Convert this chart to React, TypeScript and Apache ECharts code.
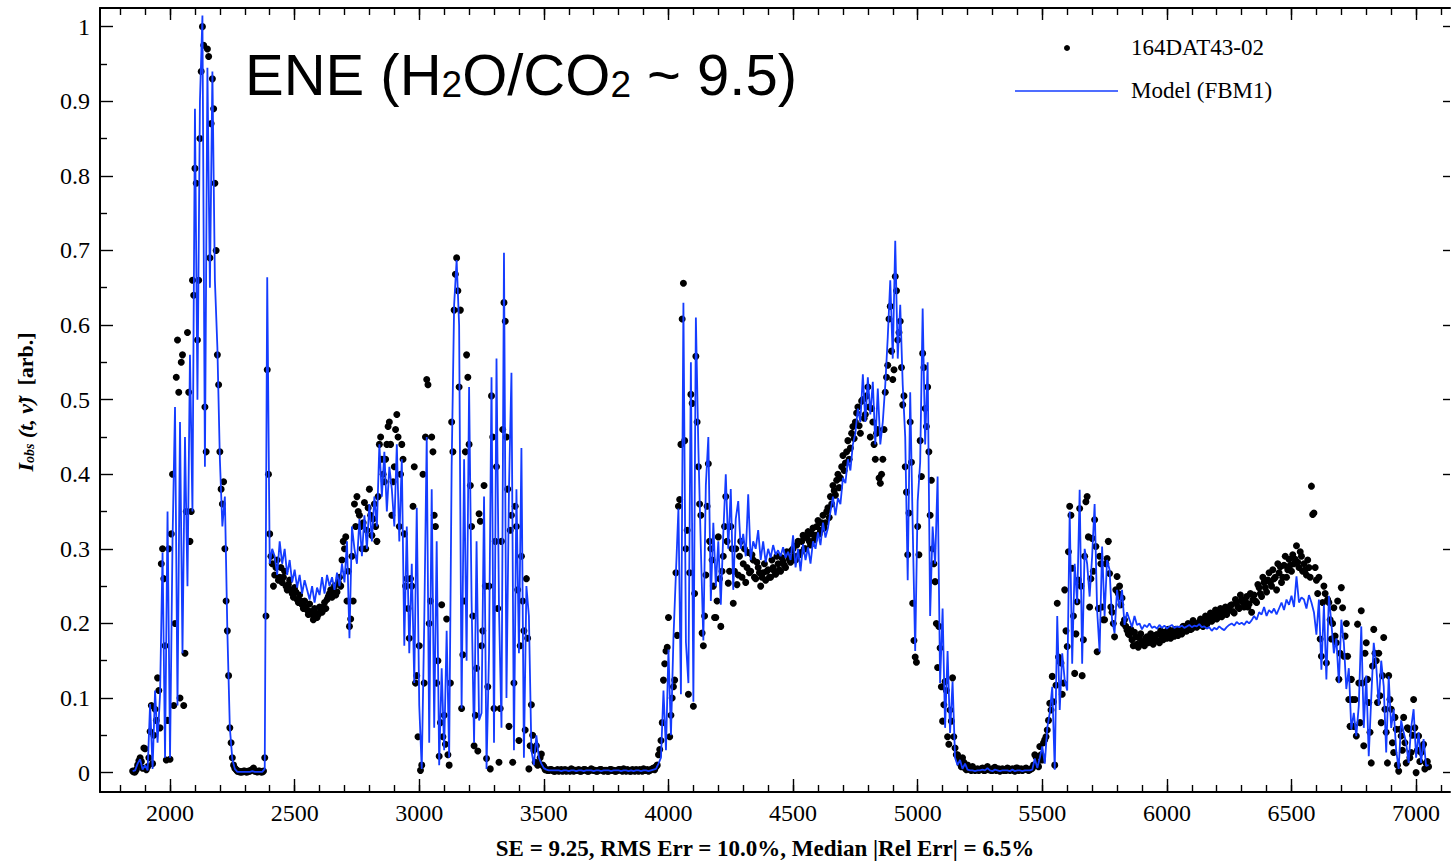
import React, { useEffect, useRef } from "react";
import * as echarts from "echarts";

// Spectral sampling grid (cm^-1). The observed spectrum has two interleaved
// sample sets (on-grid and half-step offset); the model lives on the main grid.
const SAMPLE_START = 1850;
const SAMPLE_STEP = 10;
const OFFSET_START = 1855;

// Observed intensity, 164DAT43-02, main grid (10 values per row = 100 cm^-1)
const observed = [
  /* 1850 */ 0.002, 0.001, 0.010, 0.020, 0.006, 0.032, 0.008, 0.055, 0.012, 0.085,
  /* 1950 */ 0.127, 0.060, 0.300, 0.170, 0.070, 0.018, 0.400, 0.200, 0.580, 0.100,
  /* 2050 */ 0.560, 0.160, 0.590, 0.310, 0.660, 0.810, 0.580, 0.850, 1.000, 0.490,
  /* 2150 */ 0.970, 0.690, 0.930, 0.790, 0.560, 0.430, 0.360, 0.300, 0.190, 0.060,
  /* 2250 */ 0.020, 0.006, 0.002, 0.001, 0.001, 0.002, 0.001, 0.002, 0.004, 0.002,
  /* 2350 */ 0.001, 0.002, 0.001, 0.020, 0.540, 0.320, 0.280, 0.265, 0.285, 0.262,
  /* 2450 */ 0.255, 0.270, 0.245, 0.258, 0.240, 0.248, 0.232, 0.238, 0.225, 0.230,
  /* 2550 */ 0.218, 0.226, 0.212, 0.220, 0.208, 0.222, 0.215, 0.228, 0.232, 0.240,
  /* 2650 */ 0.235, 0.250, 0.242, 0.262, 0.285, 0.300, 0.230, 0.196, 0.290, 0.360,
  /* 2750 */ 0.370, 0.345, 0.300, 0.362, 0.325, 0.380, 0.318, 0.360, 0.310, 0.440,
  /* 2850 */ 0.420, 0.390, 0.440, 0.470, 0.345, 0.410, 0.480, 0.330, 0.440, 0.320,
  /* 2950 */ 0.260, 0.180, 0.250, 0.410, 0.130, 0.170, 0.010, 0.120, 0.527, 0.200,
  /* 3050 */ 0.450, 0.345, 0.120, 0.022, 0.225, 0.077, 0.206, 0.010, 0.470, 0.620,
  /* 3150 */ 0.690, 0.517, 0.086, 0.230, 0.560, 0.440, 0.330, 0.036, 0.140, 0.347,
  /* 3250 */ 0.170, 0.385, 0.019, 0.250, 0.505, 0.086, 0.410, 0.014, 0.310, 0.630,
  /* 3350 */ 0.450, 0.062, 0.345, 0.120, 0.330, 0.043, 0.290, 0.190, 0.260, 0.005,
  /* 3450 */ 0.091, 0.030, 0.036, 0.012, 0.025, 0.008, 0.004, 0.003, 0.004, 0.002,
  /* 3550 */ 0.003, 0.002, 0.004, 0.003, 0.002, 0.003, 0.005, 0.002, 0.003, 0.004,
  /* 3650 */ 0.002, 0.004, 0.003, 0.002, 0.005, 0.003, 0.002, 0.003, 0.004, 0.002,
  /* 3750 */ 0.003, 0.002, 0.004, 0.003, 0.002, 0.004, 0.003, 0.005, 0.002, 0.003,
  /* 3850 */ 0.002, 0.003, 0.004, 0.002, 0.003, 0.005, 0.003, 0.002, 0.004, 0.006,
  /* 3950 */ 0.008, 0.024, 0.043, 0.124, 0.163, 0.208, 0.077, 0.115, 0.268, 0.357,
  /* 4050 */ 0.440, 0.656, 0.300, 0.105, 0.507, 0.089, 0.558, 0.410, 0.345, 0.170,
  /* 4150 */ 0.265, 0.414, 0.300, 0.250, 0.208, 0.316, 0.196, 0.290, 0.370, 0.254,
  /* 4250 */ 0.330, 0.227, 0.300, 0.265, 0.310, 0.280, 0.255, 0.295, 0.270, 0.285,
  /* 4350 */ 0.260, 0.275, 0.250, 0.268, 0.258, 0.272, 0.262, 0.275, 0.266, 0.280,
  /* 4450 */ 0.270, 0.283, 0.275, 0.290, 0.282, 0.300, 0.285, 0.310, 0.295, 0.318,
  /* 4550 */ 0.300, 0.323, 0.305, 0.328, 0.318, 0.338, 0.325, 0.345, 0.335, 0.355,
  /* 4650 */ 0.370, 0.385, 0.372, 0.400, 0.395, 0.425, 0.415, 0.445, 0.435, 0.464,
  /* 4750 */ 0.470, 0.490, 0.455, 0.500, 0.480, 0.517, 0.450, 0.470, 0.420, 0.460,
  /* 4850 */ 0.388, 0.420, 0.510, 0.546, 0.625, 0.527, 0.665, 0.580, 0.605, 0.493,
  /* 4950 */ 0.410, 0.292, 0.470, 0.227, 0.155, 0.330, 0.445, 0.562, 0.488, 0.517,
  /* 5050 */ 0.345, 0.300, 0.256, 0.141, 0.167, 0.069, 0.122, 0.048, 0.084, 0.127,
  /* 5150 */ 0.033, 0.024, 0.012, 0.020, 0.006, 0.010, 0.004, 0.008, 0.003, 0.005,
  /* 5250 */ 0.004, 0.006, 0.003, 0.008, 0.004, 0.003, 0.007, 0.004, 0.002, 0.005,
  /* 5350 */ 0.004, 0.006, 0.003, 0.005, 0.002, 0.006, 0.004, 0.003, 0.005, 0.004,
  /* 5450 */ 0.004, 0.006, 0.024, 0.013, 0.035, 0.017, 0.044, 0.057, 0.093, 0.129,
  /* 5550 */ 0.010, 0.227, 0.149, 0.105, 0.245, 0.169, 0.357, 0.274, 0.133, 0.229,
  /* 5650 */ 0.354, 0.130, 0.290, 0.370, 0.222, 0.314, 0.339, 0.162, 0.290, 0.222,
  /* 5750 */ 0.205, 0.287, 0.267, 0.215, 0.182, 0.263, 0.250, 0.234, 0.205, 0.191,
  /* 5850 */ 0.185, 0.178, 0.188, 0.172, 0.180, 0.175, 0.170, 0.182, 0.176, 0.180,
  /* 5950 */ 0.178, 0.185, 0.174, 0.182, 0.188, 0.180, 0.185, 0.190, 0.183, 0.188,
  /* 6050 */ 0.192, 0.186, 0.195, 0.190, 0.198, 0.193, 0.200, 0.195, 0.202, 0.198,
  /* 6150 */ 0.205, 0.199, 0.208, 0.203, 0.212, 0.206, 0.214, 0.209, 0.216, 0.212,
  /* 6250 */ 0.218, 0.225, 0.214, 0.228, 0.220, 0.232, 0.222, 0.236, 0.226, 0.215,
  /* 6350 */ 0.238, 0.228, 0.248, 0.236, 0.255, 0.242, 0.268, 0.250, 0.260, 0.245,
  /* 6450 */ 0.268, 0.255, 0.278, 0.262, 0.286, 0.270, 0.280, 0.304, 0.275, 0.290,
  /* 6550 */ 0.280, 0.265, 0.275, 0.384, 0.348, 0.258, 0.262, 0.156, 0.250, 0.147,
  /* 6650 */ 0.228, 0.179, 0.221, 0.174, 0.125, 0.248, 0.156, 0.200, 0.098, 0.125,
  /* 6750 */ 0.062, 0.049, 0.120, 0.217, 0.036, 0.174, 0.094, 0.013, 0.192, 0.150,
  /* 6850 */ 0.160, 0.067, 0.181, 0.054, 0.130, 0.085, 0.027, 0.058, 0.002, 0.049,
  /* 6950 */ 0.074, 0.013, 0.058, 0.027, 0.098, 0.000, 0.049, 0.027, 0.038, 0.013,
  /* 7050 */ 0.008,
];

// Observed intensity, offset grid (1855, 1865, ... 7045)
const observedOffset = [
  /* 1855 */ 0.001, 0.004, 0.016, 0.015, 0.033, 0.004, 0.020, 0.090, 0.050, 0.070,
  /* 1955 */ 0.110, 0.280, 0.260, 0.017, 0.300, 0.320, 0.090, 0.530, 0.510, 0.550,
  /* 2055 */ 0.090, 0.350, 0.510, 0.350, 0.640, 0.790, 0.660, 0.940, 0.975, 0.430,
  /* 2155 */ 0.960, 0.870, 0.890, 0.700, 0.520, 0.380, 0.390, 0.230, 0.130, 0.040,
  /* 2255 */ 0.010, 0.004, 0.002, 0.001, 0.002, 0.001, 0.002, 0.003, 0.006, 0.002,
  /* 2355 */ 0.002, 0.001, 0.002, 0.210, 0.400, 0.290, 0.250, 0.275, 0.258, 0.275,
  /* 2455 */ 0.262, 0.250, 0.252, 0.245, 0.235, 0.242, 0.228, 0.230, 0.220, 0.222,
  /* 2555 */ 0.212, 0.216, 0.205, 0.214, 0.212, 0.216, 0.222, 0.220, 0.236, 0.245,
  /* 2655 */ 0.242, 0.238, 0.255, 0.250, 0.310, 0.316, 0.270, 0.206, 0.230, 0.330,
  /* 2755 */ 0.350, 0.330, 0.335, 0.300, 0.355, 0.345, 0.340, 0.330, 0.370, 0.450,
  /* 2855 */ 0.400, 0.420, 0.464, 0.440, 0.390, 0.460, 0.450, 0.400, 0.420, 0.250,
  /* 2955 */ 0.220, 0.260, 0.357, 0.120, 0.048, 0.003, 0.400, 0.450, 0.520, 0.230,
  /* 3055 */ 0.430, 0.330, 0.150, 0.067, 0.048, 0.038, 0.024, 0.120, 0.430, 0.668,
  /* 3155 */ 0.646, 0.620, 0.158, 0.430, 0.530, 0.385, 0.210, 0.077, 0.029, 0.337,
  /* 3255 */ 0.190, 0.250, 0.115, 0.005, 0.450, 0.310, 0.220, 0.086, 0.460, 0.605,
  /* 3355 */ 0.380, 0.325, 0.014, 0.357, 0.245, 0.170, 0.230, 0.057, 0.180, 0.036,
  /* 3455 */ 0.050, 0.014, 0.010, 0.020, 0.010, 0.004, 0.003, 0.004, 0.003, 0.002,
  /* 3555 */ 0.004, 0.003, 0.002, 0.004, 0.003, 0.002, 0.004, 0.003, 0.003, 0.002,
  /* 3655 */ 0.003, 0.004, 0.002, 0.003, 0.004, 0.003, 0.002, 0.004, 0.003, 0.003,
  /* 3755 */ 0.002, 0.004, 0.003, 0.002, 0.003, 0.004, 0.002, 0.003, 0.004, 0.002,
  /* 3855 */ 0.004, 0.002, 0.003, 0.004, 0.002, 0.003, 0.004, 0.003, 0.005, 0.004,
  /* 3955 */ 0.010, 0.031, 0.067, 0.146, 0.168, 0.048, 0.100, 0.124, 0.184, 0.366,
  /* 4055 */ 0.608, 0.445, 0.325, 0.268, 0.495, 0.240, 0.470, 0.360, 0.187, 0.210,
  /* 4155 */ 0.357, 0.310, 0.285, 0.208, 0.230, 0.260, 0.270, 0.330, 0.310, 0.270,
  /* 4255 */ 0.300, 0.270, 0.252, 0.290, 0.262, 0.300, 0.275, 0.268, 0.292, 0.262,
  /* 4355 */ 0.282, 0.268, 0.262, 0.280, 0.270, 0.262, 0.285, 0.270, 0.290, 0.272,
  /* 4455 */ 0.288, 0.278, 0.296, 0.286, 0.298, 0.290, 0.305, 0.292, 0.310, 0.300,
  /* 4555 */ 0.315, 0.310, 0.320, 0.312, 0.330, 0.320, 0.335, 0.328, 0.350, 0.342,
  /* 4655 */ 0.360, 0.378, 0.392, 0.382, 0.410, 0.405, 0.430, 0.420, 0.455, 0.448,
  /* 4755 */ 0.482, 0.465, 0.498, 0.475, 0.505, 0.490, 0.488, 0.440, 0.455, 0.395,
  /* 4855 */ 0.400, 0.460, 0.530, 0.608, 0.565, 0.540, 0.646, 0.590, 0.543, 0.505,
  /* 4955 */ 0.376, 0.348, 0.416, 0.177, 0.148, 0.292, 0.397, 0.543, 0.464, 0.430,
  /* 5055 */ 0.392, 0.280, 0.200, 0.196, 0.115, 0.091, 0.110, 0.038, 0.069, 0.048,
  /* 5155 */ 0.024, 0.018, 0.008, 0.014, 0.004, 0.007, 0.003, 0.005, 0.004, 0.003,
  /* 5255 */ 0.005, 0.003, 0.006, 0.004, 0.003, 0.006, 0.003, 0.005, 0.004, 0.003,
  /* 5355 */ 0.003, 0.005, 0.004, 0.003, 0.006, 0.003, 0.005, 0.004, 0.006, 0.003,
  /* 5455 */ 0.005, 0.010, 0.021, 0.008, 0.024, 0.040, 0.048, 0.070, 0.084, 0.095,
  /* 5555 */ 0.117, 0.155, 0.147, 0.120, 0.190, 0.296, 0.345, 0.210, 0.186, 0.258,
  /* 5655 */ 0.250, 0.178, 0.363, 0.316, 0.260, 0.270, 0.303, 0.220, 0.280, 0.205,
  /* 5755 */ 0.280, 0.310, 0.222, 0.200, 0.245, 0.240, 0.225, 0.200, 0.196, 0.186,
  /* 5855 */ 0.192, 0.170, 0.182, 0.168, 0.186, 0.172, 0.180, 0.174, 0.186, 0.172,
  /* 5955 */ 0.184, 0.176, 0.190, 0.178, 0.184, 0.192, 0.180, 0.186, 0.192, 0.184,
  /* 6055 */ 0.188, 0.196, 0.190, 0.200, 0.192, 0.204, 0.198, 0.200, 0.206, 0.196,
  /* 6155 */ 0.210, 0.202, 0.214, 0.208, 0.218, 0.210, 0.220, 0.214, 0.222, 0.218,
  /* 6255 */ 0.224, 0.216, 0.232, 0.222, 0.238, 0.228, 0.230, 0.222, 0.240, 0.232,
  /* 6355 */ 0.230, 0.252, 0.240, 0.262, 0.248, 0.258, 0.255, 0.272, 0.262, 0.280,
  /* 6455 */ 0.276, 0.262, 0.290, 0.272, 0.278, 0.292, 0.286, 0.282, 0.296, 0.270,
  /* 6555 */ 0.272, 0.285, 0.262, 0.346, 0.275, 0.240, 0.179, 0.228, 0.240, 0.232,
  /* 6655 */ 0.205, 0.200, 0.183, 0.230, 0.160, 0.221, 0.183, 0.156, 0.062, 0.098,
  /* 6755 */ 0.098, 0.199, 0.067, 0.120, 0.160, 0.125, 0.054, 0.143, 0.160, 0.094,
  /* 6855 */ 0.103, 0.130, 0.085, 0.013, 0.098, 0.040, 0.074, 0.010, 0.058, 0.030,
  /* 6955 */ 0.040, 0.060, 0.020, 0.050, 0.060, 0.030, 0.015, 0.035, 0.005, 0.015,
];

// Model (FBM1) intensity on the main grid
const model = [
  /* 1850 */ 0.002, 0.003, 0.012, 0.018, 0.004, 0.010, 0.003, 0.092, 0.005, 0.110,
  /* 1950 */ 0.040, 0.105, 0.295, 0.020, 0.350, 0.020, 0.310, 0.490, 0.090, 0.470,
  /* 2050 */ 0.160, 0.450, 0.250, 0.560, 0.350, 0.890, 0.500, 0.900, 1.015, 0.410,
  /* 2150 */ 0.945, 0.650, 0.940, 0.660, 0.570, 0.420, 0.330, 0.370, 0.190, 0.060,
  /* 2250 */ 0.018, 0.005, 0.001, 0.001, 0.001, 0.001, 0.001, 0.001, 0.002, 0.001,
  /* 2350 */ 0.001, 0.001, 0.001, 0.005, 0.664, 0.280, 0.300, 0.290, 0.265, 0.310,
  /* 2450 */ 0.280, 0.300, 0.265, 0.285, 0.255, 0.272, 0.248, 0.265, 0.240, 0.258,
  /* 2550 */ 0.245, 0.232, 0.250, 0.228, 0.248, 0.238, 0.262, 0.240, 0.265, 0.250,
  /* 2650 */ 0.262, 0.245, 0.268, 0.250, 0.280, 0.255, 0.310, 0.180, 0.330, 0.300,
  /* 2750 */ 0.280, 0.340, 0.290, 0.345, 0.300, 0.360, 0.310, 0.370, 0.330, 0.440,
  /* 2850 */ 0.370, 0.430, 0.350, 0.410, 0.380, 0.330, 0.440, 0.310, 0.420, 0.170,
  /* 2950 */ 0.330, 0.160, 0.280, 0.120, 0.355, 0.090, 0.005, 0.200, 0.450, 0.040,
  /* 3050 */ 0.380, 0.060, 0.310, 0.010, 0.140, 0.030, 0.190, 0.020, 0.410, 0.627,
  /* 3150 */ 0.687, 0.600, 0.086, 0.420, 0.150, 0.517, 0.230, 0.040, 0.310, 0.070,
  /* 3250 */ 0.080, 0.370, 0.005, 0.160, 0.530, 0.040, 0.555, 0.220, 0.060, 0.697,
  /* 3350 */ 0.100, 0.380, 0.536, 0.030, 0.380, 0.160, 0.435, 0.020, 0.250, 0.210,
  /* 3450 */ 0.030, 0.010, 0.050, 0.020, 0.012, 0.006, 0.004, 0.003, 0.003, 0.003,
  /* 3550 */ 0.003, 0.003, 0.002, 0.003, 0.003, 0.002, 0.003, 0.003, 0.002, 0.003,
  /* 3650 */ 0.003, 0.002, 0.003, 0.003, 0.003, 0.002, 0.003, 0.003, 0.002, 0.003,
  /* 3750 */ 0.003, 0.003, 0.002, 0.003, 0.003, 0.003, 0.002, 0.003, 0.003, 0.002,
  /* 3850 */ 0.003, 0.002, 0.003, 0.003, 0.002, 0.003, 0.003, 0.002, 0.003, 0.004,
  /* 3950 */ 0.005, 0.012, 0.020, 0.110, 0.030, 0.165, 0.050, 0.180, 0.268, 0.354,
  /* 4050 */ 0.105, 0.630, 0.175, 0.120, 0.550, 0.095, 0.610, 0.435, 0.300, 0.177,
  /* 4150 */ 0.385, 0.450, 0.230, 0.335, 0.250, 0.310, 0.225, 0.320, 0.400, 0.300,
  /* 4250 */ 0.380, 0.245, 0.340, 0.364, 0.300, 0.320, 0.290, 0.373, 0.285, 0.310,
  /* 4350 */ 0.300, 0.325, 0.285, 0.310, 0.282, 0.300, 0.288, 0.305, 0.292, 0.298,
  /* 4450 */ 0.290, 0.302, 0.288, 0.296, 0.285, 0.318, 0.275, 0.300, 0.270, 0.306,
  /* 4550 */ 0.285, 0.302, 0.280, 0.310, 0.300, 0.322, 0.305, 0.335, 0.315, 0.328,
  /* 4650 */ 0.350, 0.370, 0.345, 0.368, 0.360, 0.395, 0.388, 0.420, 0.405, 0.440,
  /* 4750 */ 0.455, 0.488, 0.470, 0.534, 0.470, 0.530, 0.480, 0.524, 0.440, 0.515,
  /* 4850 */ 0.440, 0.470, 0.520, 0.584, 0.660, 0.555, 0.713, 0.555, 0.627, 0.520,
  /* 4950 */ 0.450, 0.258, 0.510, 0.330, 0.163, 0.364, 0.416, 0.622, 0.440, 0.550,
  /* 5050 */ 0.210, 0.330, 0.280, 0.397, 0.120, 0.220, 0.060, 0.163, 0.053, 0.122,
  /* 5150 */ 0.020, 0.010, 0.017, 0.005, 0.012, 0.004, 0.003, 0.003, 0.002, 0.003,
  /* 5250 */ 0.003, 0.004, 0.003, 0.006, 0.003, 0.002, 0.004, 0.003, 0.002, 0.003,
  /* 5350 */ 0.003, 0.003, 0.002, 0.004, 0.002, 0.003, 0.003, 0.002, 0.003, 0.003,
  /* 5450 */ 0.003, 0.004, 0.019, 0.006, 0.020, 0.035, 0.012, 0.060, 0.080, 0.115,
  /* 5550 */ 0.004, 0.210, 0.084, 0.160, 0.124, 0.110, 0.350, 0.146, 0.280, 0.227,
  /* 5650 */ 0.379, 0.146, 0.300, 0.280, 0.236, 0.290, 0.360, 0.218, 0.162, 0.303,
  /* 5750 */ 0.210, 0.285, 0.272, 0.205, 0.187, 0.245, 0.220, 0.245, 0.198, 0.215,
  /* 5850 */ 0.205, 0.195, 0.210, 0.198, 0.200, 0.192, 0.198, 0.195, 0.200, 0.194,
  /* 5950 */ 0.196, 0.193, 0.198, 0.194, 0.197, 0.193, 0.196, 0.198, 0.194, 0.196,
  /* 6050 */ 0.195, 0.197, 0.194, 0.196, 0.198, 0.195, 0.197, 0.196, 0.199, 0.195,
  /* 6150 */ 0.196, 0.193, 0.195, 0.190, 0.194, 0.192, 0.196, 0.193, 0.191, 0.195,
  /* 6250 */ 0.198, 0.200, 0.197, 0.202, 0.199, 0.201, 0.198, 0.203, 0.200, 0.204,
  /* 6350 */ 0.210, 0.205, 0.215, 0.212, 0.222, 0.210, 0.218, 0.214, 0.220, 0.212,
  /* 6450 */ 0.220, 0.228, 0.218, 0.232, 0.225, 0.237, 0.222, 0.263, 0.228, 0.235,
  /* 6550 */ 0.232, 0.220, 0.238, 0.228, 0.215, 0.185, 0.232, 0.138, 0.225, 0.125,
  /* 6650 */ 0.237, 0.200, 0.160, 0.180, 0.120, 0.205, 0.174, 0.112, 0.140, 0.058,
  /* 6750 */ 0.080, 0.049, 0.090, 0.196, 0.060, 0.130, 0.022, 0.100, 0.174, 0.143,
  /* 6850 */ 0.090, 0.150, 0.116, 0.027, 0.129, 0.060, 0.085, 0.030, 0.005, 0.070,
  /* 6950 */ 0.054, 0.040, 0.013, 0.060, 0.085, 0.020, 0.054, 0.013, 0.045, 0.009,
  /* 7050 */ 0.010,
];

// Axis ticks
const xMajorTicks = [2000, 2500, 3000, 3500, 4000, 4500, 5000, 5500, 6000, 6500, 7000];
const xMinorTicks: number[] = [];
for (let v = 1800; v <= 7100; v += 100) xMinorTicks.push(v);
const yMajorTicks = [0, 0.1, 0.2, 0.3, 0.4, 0.5, 0.6, 0.7, 0.8, 0.9, 1];
const yMinorTicks = [0.05, 0.15, 0.25, 0.35, 0.45, 0.55, 0.65, 0.75, 0.85, 0.95];

const X_MIN = 1719;
const X_MAX = 7136;
const Y_MIN = -0.026;
const Y_MAX = 1.025;

const SERIF = "'Liberation Serif', 'Times New Roman', serif";
const SANS = "'Liberation Sans', Arial, sans-serif";
const MODEL_BLUE = "#143cff";

const tickLine = { color: "#000", width: 1.4 };

function xAxisCfg(position: "top" | "bottom", ticks: number[], length: number, showLine: boolean, showLabels: boolean) {
  return {
    type: "value",
    position,
    min: X_MIN,
    max: X_MAX,
    axisLine: { show: showLine, onZero: false, lineStyle: { color: "#000", width: 2 } },
    axisTick: { show: true, inside: true, length, customValues: ticks, lineStyle: tickLine },
    axisLabel: {
      show: showLabels,
      customValues: ticks,
      color: "#000",
      fontFamily: SERIF,
      fontSize: 24,
      margin: 9,
      formatter: (v: number) => String(v),
    },
    splitLine: { show: false },
  };
}

function yAxisCfg(position: "left" | "right", ticks: number[], length: number, showLine: boolean, showLabels: boolean) {
  return {
    type: "value",
    position,
    min: Y_MIN,
    max: Y_MAX,
    axisLine: { show: showLine, onZero: false, lineStyle: { color: "#000", width: 2 } },
    axisTick: { show: true, inside: true, length, customValues: ticks, lineStyle: tickLine },
    axisLabel: {
      show: showLabels,
      customValues: ticks,
      color: "#000",
      fontFamily: SERIF,
      fontSize: 24,
      margin: 10,
      formatter: (v: number) => String(v),
    },
    splitLine: { show: false },
  };
}

export default function App() {
  const ref = useRef<HTMLDivElement>(null);

  useEffect(() => {
    if (!ref.current) return;
    const chart = echarts.init(ref.current, undefined, { renderer: "svg" });

    const obsPoints = [
      ...observed.map((v, i) => [SAMPLE_START + i * SAMPLE_STEP, v]),
      ...observedOffset.map((v, i) => [OFFSET_START + i * SAMPLE_STEP, v]),
    ];
    const modelPoints = model.map((v, i) => [SAMPLE_START + i * SAMPLE_STEP, v]);

    chart.setOption({
      animation: false,
      backgroundColor: "#fff",
      grid: { left: 100, top: 8, right: 1, bottom: 72, containLabel: false },
      xAxis: [
        xAxisCfg("bottom", xMajorTicks, 13, true, true),
        xAxisCfg("bottom", xMinorTicks, 7, false, false),
        xAxisCfg("top", xMajorTicks, 12, true, false),
        xAxisCfg("top", xMinorTicks, 7, false, false),
      ],
      yAxis: [
        yAxisCfg("left", yMajorTicks, 13, true, true),
        yAxisCfg("left", yMinorTicks, 7, false, false),
        yAxisCfg("right", yMajorTicks, 7, false, false),
      ],
      series: [
        {
          name: "164DAT43-02",
          type: "scatter",
          data: obsPoints,
          symbol: "circle",
          symbolSize: 7,
          itemStyle: { color: "#000", opacity: 1 },
          silent: true,
          z: 2,
        },
        {
          name: "Model (FBM1)",
          type: "line",
          data: modelPoints,
          showSymbol: false,
          symbol: "none",
          lineStyle: { color: MODEL_BLUE, width: 1.8 },
          silent: true,
          z: 3,
        },
      ],
      graphic: [
        {
          type: "text",
          x: 245,
          y: 74,
          style: {
            text: "{m|ENE (H}{s|2}{m|O/CO}{s|2}{m| ~ 9.5)}",
            align: "left",
            verticalAlign: "middle",
            fill: "#000",
            rich: {
              m: { fontFamily: SANS, fontSize: 58, fill: "#000" },
              s: { fontFamily: SANS, fontSize: 37, fill: "#000", verticalAlign: "bottom" },
            },
          },
        },
        { type: "circle", shape: { cx: 1067, cy: 48, r: 3 }, style: { fill: "#000" } },
        {
          type: "text",
          x: 1131,
          y: 47,
          style: { text: "164DAT43-02", fontFamily: SERIF, fontSize: 23, fill: "#000", verticalAlign: "middle" },
        },
        {
          type: "line",
          shape: { x1: 1015, y1: 91, x2: 1118, y2: 91 },
          style: { stroke: MODEL_BLUE, lineWidth: 1.5 },
        },
        {
          type: "text",
          x: 1131,
          y: 90,
          style: { text: "Model (FBM1)", fontFamily: SERIF, fontSize: 23, fill: "#000", verticalAlign: "middle" },
        },
        {
          type: "text",
          x: 25,
          y: 402,
          rotation: Math.PI / 2,
          style: {
            text: "{i|I}{s|obs}{i| (t, \u03bd\u0303)}{b|  [arb.]}",
            align: "center",
            verticalAlign: "middle",
            fill: "#000",
            rich: {
              i: { fontFamily: SERIF, fontSize: 22, fontStyle: "italic", fontWeight: "bold", fill: "#000" },
              s: { fontFamily: SERIF, fontSize: 14, fontStyle: "italic", fontWeight: "bold", fill: "#000", verticalAlign: "bottom" },
              b: { fontFamily: SERIF, fontSize: 22, fontWeight: "bold", fill: "#000" },
            },
          },
        },
        {
          type: "text",
          x: 765,
          y: 848,
          style: {
            text: "SE = 9.25, RMS Err = 10.0%, Median |Rel Err| = 6.5%",
            fontFamily: SERIF,
            fontSize: 23,
            fontWeight: "bold",
            fill: "#000",
            align: "center",
            verticalAlign: "middle",
          },
        },
      ],
    });

    return () => chart.dispose();
  }, []);

  return (
    <div
      ref={ref}
      style={{ position: "absolute", left: 0, top: 0, width: 1451, height: 864, background: "#fff" }}
    />
  );
}
